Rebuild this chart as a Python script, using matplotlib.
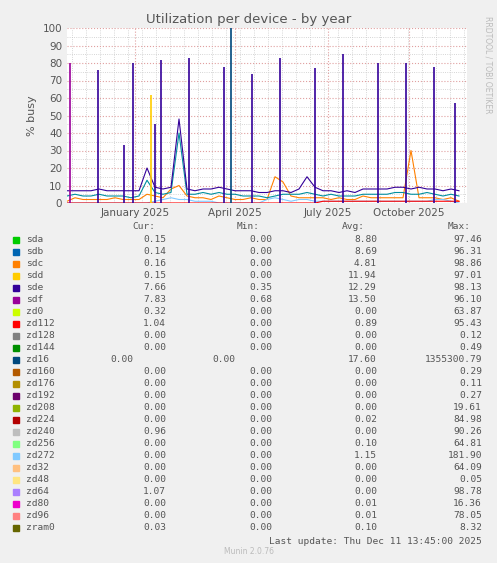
import matplotlib
matplotlib.use("Agg")
import matplotlib.pyplot as plt
import numpy as np

names = ["sda","sdb","sdc","sdd","sde","sdf","zd0","zd112","zd128","zd144","zd16","zd160","zd176","zd192","zd208","zd224","zd240","zd256","zd272","zd32","zd48","zd64","zd80","zd96","zram0"]
colors = ["#00CC00","#0066B3","#FF8000","#FFCC00","#330099","#990099","#CCFF00","#FF0000","#808080","#008F00","#00487D","#B35A00","#B38F00","#6B006B","#8FB300","#B30000","#BEBEBE","#80FF80","#80C9FF","#FFC080","#FFE680","#AA80FF","#EE00CC","#FF8080","#666600"]
cur = ["0.15","0.14","0.16","0.15","7.66","7.83","0.32","1.04","0.00","0.00","0.00","0.00","0.00","0.00","0.00","0.00","0.96","0.00","0.00","0.00","0.00","1.07","0.00","0.00","0.03"]
mins = ["0.00","0.00","0.00","0.00","0.35","0.68","0.00","0.00","0.00","0.00","0.00","0.00","0.00","0.00","0.00","0.00","0.00","0.00","0.00","0.00","0.00","0.00","0.00","0.00","0.00"]
avgs = ["8.80","8.69","4.81","11.94","12.29","13.50","0.00","0.89","0.00","0.00","17.60","0.00","0.00","0.00","0.00","0.02","0.00","0.10","1.15","0.00","0.00","0.00","0.01","0.01","0.10"]
maxs = ["97.46","96.31","98.86","97.01","98.13","96.10","63.87","95.43","0.12","0.49","1355300.79","0.29","0.11","0.27","19.61","84.98","90.26","64.81","181.90","64.09","0.05","98.78","16.36","78.05","8.32"]

# baseline samples, one every 8 days from day 0
days = np.arange(0, 400, 8)
sde_base = [7,7,7,7,8,7,7,7,7,7,20,9,8,9,48,8,7,8,8,9,8,7,7,7,6,6,7,7,6,8,15,9,7,7,6,7,6,8,8,8,8,9,9,8,9,8,8,7,8,7]
sdb_base = [4,5,4,4,5,4,4,4,3,4,13,6,5,6,40,5,5,6,5,6,5,5,4,4,4,3,4,5,5,5,6,5,4,5,4,4,4,5,5,5,5,6,6,5,5,6,5,4,5,4]
sdc_base = [1,3,2,2,2,2,3,2,2,2,5,4,3,8,10,4,3,3,2,4,3,2,2,3,2,2,15,12,4,3,3,3,3,2,3,2,2,4,3,3,3,3,3,30,3,3,3,2,3,1]
zd272_base = [0,0,0,0,0,0,0,0,0,0,0,1,2,3,2,2,1,1,1,0,0,0,0,0,0,2,3,2,1,2,2,1,1,1,1,1,1,1,1,1,1,1,1,1,1,1,2,2,1,0]
zd112_base = [0,0,0,0,0,0,0,0,0,0,0,0,0,0,0,0,0,0,0,0,0,0,0,0,0,0,0,0,0,0,0,0,1,1,1,1,1,1,1,1,1,1,1,1,1,1,1,1,1,1]

spike_days = [3,31,66,94,122,157,164,185,213,248,276,311,339,367,388,57,84,88]
spike_vals = [80,76,80,82,83,78,100,74,83,77,85,80,80,78,57,33,62,45]
spike_cols = ["#990099","#330099","#330099","#330099","#330099","#330099","#00487D","#330099","#330099","#330099","#330099","#330099","#330099","#330099","#330099","#330099","#FFCC00","#330099"]

fig = plt.figure(figsize=(4.97,5.63), dpi=100, facecolor="#F0F0F0")
ax = fig.add_axes([67/497, 1-203/563, 400/497, 175/563], facecolor="white")
ax.plot(days, sdc_base, color="#FF8000", lw=0.8)
ax.plot(days, zd272_base, color="#80C9FF", lw=0.8)
ax.plot(days, zd112_base, color="#FF0000", lw=0.8)
ax.plot(days, sdb_base, color="#008F9F", lw=0.8)
ax.plot(days, sde_base, color="#330099", lw=0.8)
ax.vlines(spike_days, 0, spike_vals, colors=spike_cols, lw=1.2)
ax.set_xlim(0, 400)
ax.set_ylim(0, 100)
ax.set_yticks(range(0,101,10))
ax.set_yticks(range(0,101,5), minor=True)
ax.set_xticks([68,168,261,342])
ax.set_xticklabels(["January 2025","April 2025","July 2025","October 2025"])
ax.set_xticks(np.arange(5,400,14), minor=True)
ax.grid(which="major", color="#E0A0A0", ls=":", lw=0.8)
ax.grid(which="minor", color="#C8C8C8", ls=":", lw=0.6)
for s in ax.spines.values(): s.set_visible(False)
ax.tick_params(length=0, which="both", labelsize=7.5, colors="#555555")
ax.set_ylabel("% busy", fontsize=8, color="#555555")
fig.text(0.5, 1-19/563, "Utilization per device - by year", ha="center", va="center", fontsize=9.5, color="#555555")
fig.text(488/497, 1-65/563, "RRDTOOL / TOBI OETIKER", rotation=270, ha="center", va="center", fontsize=5.5, color="#BBBBBB")

mono = "DejaVu Sans Mono"
fy = lambda y: 1-y/563
fs = 6.8
for x, t in [(155,"Cur:"),(260,"Min:"),(365,"Avg:"),(471,"Max:")]:
    fig.text(x/497, fy(227), t, ha="right", fontsize=fs, family=mono, color="#555555", va="center")
for i, n in enumerate(names):
    y = 239.5 + i*12.0
    fig.patches.append(plt.Rectangle((13/497, fy(y+3)), 6/497, 6/563, transform=fig.transFigure, color=colors[i]))
    fig.text(26/497, fy(y), n, fontsize=fs, family=mono, color="#555555", va="center")
    if n == "zd16":
        fig.text(133/497, fy(y), cur[i], ha="right", fontsize=fs, family=mono, color="#555555", va="center")
        fig.text(235/497, fy(y), mins[i], ha="right", fontsize=fs, family=mono, color="#555555", va="center")
    else:
        fig.text(166/497, fy(y), cur[i], ha="right", fontsize=fs, family=mono, color="#555555", va="center")
        fig.text(272/497, fy(y), mins[i], ha="right", fontsize=fs, family=mono, color="#555555", va="center")
    fig.text(377/497, fy(y), avgs[i], ha="right", fontsize=fs, family=mono, color="#555555", va="center")
    fig.text(482/497, fy(y), maxs[i], ha="right", fontsize=fs, family=mono, color="#555555", va="center")
fig.text(482/497, fy(541), "Last update: Thu Dec 11 13:45:00 2025", ha="right", fontsize=fs, family=mono, color="#555555", va="center")
fig.text(0.5, fy(552), "Munin 2.0.76", ha="center", fontsize=5.5, color="#BBBBBB", va="center")
fig.savefig("out.png", dpi=100, facecolor=fig.get_facecolor())
